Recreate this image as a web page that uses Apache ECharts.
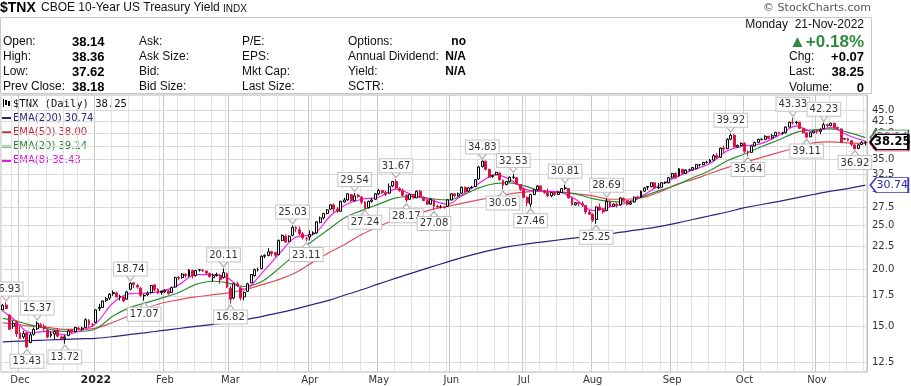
<!DOCTYPE html>
<html><head><meta charset="utf-8">
<script src="https://cdn.jsdelivr.net/npm/echarts@6/dist/echarts.min.js"></script>
<style>html,body{margin:0;padding:0;background:#fff}#c{width:911px;height:386px}</style>
</head><body><div id="c"></div><script>
// ---------- DATA ----------
const startDate = '2021-11-23';
const endDate = '2022-11-21';
const holidays = ['2021-11-25','2021-12-24','2022-01-17','2022-02-21','2022-04-15','2022-05-30','2022-06-20','2022-07-04','2022-09-05'];

// daily candles per month: [open, close, low, high]
const nov2021 = [[16.30,16.68,16.25,16.78],[16.70,16.40,16.35,16.93],[15.85,14.76,14.70,15.95],[15.00,15.20,14.80,15.40],[15.30,14.42,14.20,15.45]];
const dec2021 = [[14.50,14.10,14.05,15.00],[14.20,14.45,14.07,14.65],[14.50,13.50,13.43,14.55],[13.80,14.35,13.75,14.50],[14.40,14.75,14.30,14.90],[14.80,15.22,14.70,15.37],[15.10,14.95,14.85,15.25],[15.00,14.85,14.60,15.20],[14.70,14.20,14.10,14.80],[14.30,14.40,14.15,14.60],[14.40,14.60,14.05,14.70],[14.70,14.25,14.15,14.85],[14.20,14.05,13.95,14.30],[14.10,14.20,13.72,14.35],[14.30,14.65,14.25,14.75],[14.70,14.55,14.45,14.75],[14.60,14.90,14.55,14.95],[14.85,14.80,14.70,14.95],[14.80,14.85,14.70,14.95],[14.90,15.50,14.85,15.60],[15.45,15.15,14.95,15.55],[15.10,15.10,14.95,15.25]];
const jan2022 = [[15.30,16.30,15.25,16.35],[16.40,16.50,16.20,16.80],[16.50,17.05,16.45,17.10],[17.10,17.25,16.95,17.40],[17.30,17.65,17.15,17.75],[17.70,17.80,17.50,18.00],[17.75,17.40,17.35,17.90],[17.45,17.40,17.10,17.60],[17.40,17.05,16.95,17.50],[17.20,17.85,17.15,17.95],[18.10,18.65,18.00,18.74],[18.70,18.55,18.20,18.70],[18.45,18.30,18.15,18.60],[18.20,17.55,17.40,18.30],[17.50,17.55,17.07,17.65],[17.60,17.75,17.50,17.90],[17.80,18.45,17.70,18.50],[18.50,18.05,17.90,18.55],[18.10,17.75,17.65,18.20],[17.90,17.80,17.60,18.00]];
const feb2022 = [[17.85,18.00,17.75,18.10],[17.95,17.70,17.60,18.00],[17.80,18.25,17.75,18.35],[18.30,19.20,18.25,19.30],[19.20,19.15,18.95,19.35],[19.20,19.55,19.10,19.65],[19.55,19.40,19.20,19.60],[19.35,19.95,19.25,20.05],[19.90,19.35,19.10,20.00],[19.40,19.90,19.30,19.95],[19.95,19.98,19.80,20.05],[19.95,19.90,19.75,20.00],[19.85,19.65,19.50,19.90],[19.60,19.30,19.20,19.70],[19.20,19.40,18.80,19.60],[19.40,19.50,19.30,19.70],[19.40,19.00,18.60,19.60],[19.20,19.70,19.10,20.11],[19.60,18.30,18.20,19.70]];
const mar2022 = [[18.20,17.20,16.82,18.40],[17.30,18.60,17.20,18.70],[18.60,18.45,18.30,18.80],[18.20,17.30,17.10,18.30],[17.40,17.80,17.10,17.90],[17.90,18.60,17.85,18.70],[18.70,19.50,18.65,19.55],[19.40,20.00,19.30,20.10],[20.00,20.00,19.80,20.20],[20.10,21.40,20.05,21.50],[21.40,21.50,21.20,21.60],[21.50,21.90,21.40,22.30],[21.90,21.70,21.40,22.00],[21.80,21.50,21.30,21.90],[21.60,23.20,21.50,23.30],[23.20,23.80,23.10,23.90],[23.70,23.00,22.90,23.90],[23.10,23.70,23.00,23.80],[23.80,24.80,23.70,25.03],[24.80,24.60,24.20,24.95],[24.50,24.00,23.80,24.90],[24.00,23.50,23.30,24.20],[23.40,23.40,23.11,23.60]];
const apr2022 = [[23.60,23.90,23.20,24.40],[24.00,24.10,23.80,24.30],[24.10,25.50,24.00,25.60],[25.40,26.00,25.30,26.20],[26.00,26.60,25.80,26.70],[26.60,27.10,26.50,27.20],[27.20,27.80,27.10,27.90],[27.80,27.20,26.70,28.00],[27.20,26.90,26.70,27.50],[26.90,28.30,26.90,28.40],[28.20,28.50,28.10,28.80],[28.50,29.40,28.40,29.50],[29.30,28.40,28.20,29.40],[28.40,29.10,28.30,29.54],[29.20,29.00,28.80,29.40],[28.90,28.20,27.90,29.10],[28.20,27.30,27.24,28.30],[27.40,28.30,27.30,28.40],[28.30,28.50,28.10,28.80],[28.60,29.40,28.50,29.50]];
const may2022 = [[29.40,29.90,29.20,30.10],[29.90,29.60,29.40,30.00],[29.60,29.30,29.10,29.90],[29.50,30.50,29.40,31.00],[30.60,31.30,30.40,31.40],[31.30,30.30,30.10,31.67],[30.20,29.90,29.70,30.40],[29.90,29.20,29.00,30.20],[29.20,28.50,28.17,29.40],[28.60,29.30,28.50,29.40],[29.30,28.80,28.70,29.40],[28.80,29.80,28.80,29.90],[29.80,28.90,28.80,30.00],[28.90,28.40,28.30,29.00],[28.40,27.90,27.80,28.60],[27.90,28.60,27.80,28.70],[28.50,27.60,27.08,28.60],[27.60,27.50,27.30,27.80],[27.50,27.50,27.30,27.80],[27.50,27.40,27.30,27.60],[27.60,28.50,27.50,28.60]];
const jun2022 = [[28.50,29.40,28.40,29.50],[29.40,29.10,28.90,29.50],[29.10,29.40,29.00,29.60],[29.50,30.40,29.40,30.50],[30.40,29.70,29.60,30.50],[29.80,30.30,29.70,30.40],[30.30,30.40,30.20,30.60],[30.50,31.60,30.40,31.70],[31.70,33.70,31.60,33.90],[33.80,34.70,33.60,34.83],[34.70,33.30,33.10,34.80],[33.30,32.00,31.90,33.40],[32.10,32.30,31.90,32.40],[32.40,32.80,32.30,32.90],[32.70,31.60,31.40,32.80],[31.50,30.70,30.05,31.60],[30.80,31.30,30.70,31.40],[31.30,32.00,31.20,32.10],[32.00,32.00,31.70,32.53],[31.90,30.90,30.80,32.00],[30.80,30.10,29.80,30.90]];
const jul2022 = [[30.10,28.90,28.70,30.20],[28.90,28.10,27.60,29.00],[27.90,29.30,27.46,29.40],[29.30,30.00,29.20,30.10],[30.00,30.60,29.90,30.75],[30.60,29.90,29.80,30.70],[29.90,29.60,29.40,30.00],[29.60,29.10,28.90,30.20],[29.10,29.60,28.90,29.70],[29.60,29.30,29.10,29.70],[29.30,29.60,29.20,29.80],[29.60,30.20,29.50,30.30],[30.20,30.30,30.00,30.81],[30.20,28.80,28.70,30.30],[28.80,27.80,27.70,28.90],[27.80,28.10,27.70,28.20],[28.10,28.00,27.60,28.20],[28.00,27.80,27.50,28.30],[27.70,26.80,26.50,27.80],[26.80,26.50,26.40,27.10]];
const aug2022 = [[26.50,25.70,25.50,26.60],[25.80,27.50,25.25,27.60],[27.50,27.10,27.00,28.00],[27.10,26.80,26.60,27.40],[27.00,28.30,26.90,28.69],[28.30,27.60,27.50,28.40],[27.60,27.90,27.50,28.00],[27.90,27.80,27.40,28.10],[27.80,28.80,27.70,28.90],[28.70,28.40,28.30,28.90],[28.40,27.90,27.70,28.50],[27.90,28.10,27.80,28.40],[28.20,28.90,28.10,29.00],[28.90,28.80,28.60,29.10],[28.90,29.80,28.80,29.90],[29.80,30.30,29.70,30.40],[30.40,30.50,30.00,30.60],[30.50,31.10,30.40,31.20],[31.10,30.30,30.20,31.10],[30.30,30.40,30.10,31.10],[30.40,31.10,30.40,31.20],[31.10,31.10,30.90,31.30],[31.10,31.90,31.00,32.00]];
const sep2022 = [[32.00,32.60,31.80,32.70],[32.60,31.90,31.70,32.80],[32.20,33.40,32.10,33.50],[33.30,32.60,32.50,33.40],[32.60,33.20,32.50,33.30],[33.20,33.20,33.00,33.40],[33.20,33.60,33.10,33.70],[33.40,34.10,33.30,34.20],[34.10,34.10,33.80,34.20],[34.10,34.50,34.00,34.60],[34.50,34.50,34.30,34.80],[34.60,34.90,34.40,35.10],[34.90,35.70,34.80,36.00],[35.70,35.30,35.10,36.20],[35.40,37.10,35.30,37.20],[37.10,36.90,36.20,37.60],[37.00,38.80,36.90,39.00],[38.80,39.60,38.60,39.92],[39.60,37.30,37.20,39.90],[37.30,37.60,37.10,37.80],[37.60,38.00,37.40,38.20]];
const oct2022 = [[38.00,36.50,36.20,38.20],[36.40,36.20,35.64,36.70],[36.30,37.50,36.20,37.60],[37.50,38.20,37.40,38.30],[38.20,38.80,38.10,38.90],[38.80,38.80,38.60,38.90],[38.80,39.40,38.70,39.60],[39.40,39.00,38.80,39.50],[39.10,39.50,38.80,39.90],[39.50,40.20,39.40,40.30],[40.20,40.00,39.80,40.30],[40.00,40.00,39.70,40.30],[40.10,41.30,40.00,41.40],[41.30,42.30,41.20,42.40],[42.30,42.20,41.80,43.33],[42.20,42.30,41.80,42.60],[42.30,41.00,40.90,42.40],[41.00,40.10,39.90,41.10],[40.10,39.20,39.11,40.20],[39.30,40.10,39.20,40.20],[40.10,40.50,40.00,40.60]];
const nov2022 = [[40.50,40.40,39.90,40.70],[40.40,40.70,39.80,41.00],[41.00,41.80,40.90,42.23],[41.80,41.60,41.20,42.00],[41.60,42.10,41.50,42.20],[42.10,41.20,41.00,42.20],[41.20,41.00,40.80,41.40],[40.90,38.20,38.10,41.00],[38.85,38.90,38.80,39.00],[38.90,38.60,38.40,39.10],[38.50,37.80,37.50,38.70],[37.70,36.95,36.92,37.80],[37.00,37.70,36.95,37.85],[37.80,38.18,37.70,38.40],[38.14,38.25,37.62,38.36]];

// moving averages at the first trading day of each week (53 weeks)
const ema200 = [13.85,13.88,13.93,13.98,14.02,14.06,14.10,14.22,14.38,14.50,14.66,14.82,14.98,15.13,15.26,15.50,15.75,16.05,16.38,16.75,17.15,17.55,18.05,18.60,19.15,19.70,20.25,20.80,21.25,21.75,22.20,22.50,22.80,23.00,23.25,23.50,23.75,24.00,24.30,24.60,24.95,25.40,25.80,26.30,26.80,27.40,27.85,28.30,28.80,29.30,29.80,30.20,30.74];
const ema50  = [15.25,15.15,15.00,14.90,14.75,14.75,14.85,15.30,15.85,16.35,16.85,17.15,17.40,17.60,17.75,18.05,18.50,19.00,19.70,20.80,21.90,22.70,23.90,24.90,25.80,26.40,27.10,27.60,28.00,28.50,29.00,29.40,29.70,29.75,29.70,29.40,29.10,28.60,28.60,28.90,29.80,31.00,31.60,32.60,33.60,34.50,35.40,36.30,37.20,38.10,38.30,38.10,38.00];
const ema20  = [15.60,15.45,15.10,14.80,14.60,14.60,14.80,15.80,16.50,16.85,17.30,17.80,18.55,18.85,18.70,18.35,18.80,20.10,21.70,23.20,24.70,26.00,27.00,27.90,28.80,29.00,28.70,28.50,29.10,30.30,31.00,31.10,30.50,29.80,29.70,29.40,28.70,28.30,28.20,29.10,30.00,30.90,31.90,33.10,34.80,36.00,37.40,38.70,40.20,40.70,40.90,40.20,39.14];
const ema8   = [16.20,15.60,14.50,14.60,14.35,14.60,15.20,16.90,17.70,17.75,17.90,18.50,19.50,19.50,19.20,18.10,19.60,21.60,23.60,23.90,26.30,27.70,28.60,28.90,30.10,29.20,28.50,27.90,29.20,31.00,32.40,31.60,30.00,29.80,29.70,28.60,27.00,27.50,28.10,29.30,30.90,32.20,33.20,34.30,36.60,37.50,38.00,39.60,41.50,40.30,41.20,39.60,38.43];

const yTicks = [12.5,15,17.5,20,22.5,25,27.5,30,32.5,35,37.5,40,42.5,45];
const swingPoints = [
 ['2021-11-24',16.93,'H'],['2021-12-03',13.43,'L'],['2021-12-08',15.37,'H'],['2021-12-20',13.72,'L'],
 ['2022-01-18',18.74,'H'],['2022-01-24',17.07,'L'],['2022-02-25',20.11,'H'],['2022-03-01',16.82,'L'],
 ['2022-03-25',25.03,'H'],['2022-03-31',23.11,'L'],['2022-04-21',29.54,'H'],['2022-04-26',27.24,'L'],
 ['2022-05-09',31.67,'H'],['2022-05-12',28.17,'L'],['2022-05-24',27.08,'L'],['2022-06-14',34.83,'H'],
 ['2022-06-23',30.05,'L'],['2022-06-28',32.53,'H'],['2022-07-06',27.46,'L'],['2022-07-20',30.81,'H'],
 ['2022-08-02',25.25,'L'],['2022-08-05',28.69,'H'],['2022-09-27',39.92,'H'],['2022-10-04',35.64,'L'],
 ['2022-10-21',43.33,'H'],['2022-10-27',39.11,'L'],['2022-11-03',42.23,'H'],['2022-11-16',36.92,'L']
];
const monthNames = ['Jan','Feb','Mar','Apr','May','Jun','Jul','Aug','Sep','Oct','Nov','Dec'];
const lastClose = 38.25;
const lastEma = {ema200: 30.74, ema50: 38.00, ema20: 39.14, ema8: 38.43};
const infoRows = [
 ['Open:','38.14','Ask:','','P/E:','','Options:','no'],
 ['High:','38.36','Ask Size:','','EPS:','','Annual Dividend:','N/A'],
 ['Low:','37.62','Bid:','','Mkt Cap:','','Yield:','N/A'],
 ['Prev Close:','38.18','Bid Size:','','Last Size:','','SCTR:','']
];
const quote = {date:'Monday  21-Nov-2022', pct:'\u25B2+0.18%', chg:'+0.07', last:'38.25', volume:'0'};

// ---------- BUILD ----------
const RED = '#dd1144', NAVY = '#26267e', EMA50C = '#e0505c', GREEN = '#2f8a34', MAG = '#f020ee';
const CF = 'DejaVu Sans, Verdana, sans-serif';
const HF = 'Liberation Sans, Arial, sans-serif';

const dates = [];
(function () {
  const hs = new Set(holidays);
  let t = Date.parse(startDate + 'T00:00:00Z');
  const end = Date.parse(endDate + 'T00:00:00Z');
  while (t <= end) {
    const d = new Date(t), dow = d.getUTCDay(), s = d.toISOString().slice(0, 10);
    if (dow !== 0 && dow !== 6 && !hs.has(s)) dates.push(s);
    t += 86400000;
  }
})();
const dow = s => new Date(s + 'T00:00:00Z').getUTCDay();
const weekStarts = [];
dates.forEach((s, i) => { if (i === 0 || dow(s) <= dow(dates[i - 1])) weekStarts.push(i); });
const weekSet = new Set(weekStarts);
const monthSet = new Set();
dates.forEach((s, i) => { if (i > 0 && s.slice(5, 7) !== dates[i - 1].slice(5, 7)) monthSet.add(i); });

const ohlc = [].concat(nov2021, dec2021, jan2022, feb2022, mar2022, apr2022, may2022, jun2022, jul2022, aug2022, sep2022, oct2022, nov2022);
const candleData = ohlc.map((d, i) => {
  const prev = i > 0 ? ohlc[i - 1][1] : d[0];
  const col = d[1] >= prev ? '#000000' : RED;
  const fill = d[1] > d[0] ? '#ffffff' : col;
  return { value: d, itemStyle: { color: fill, color0: fill, borderColor: col, borderColor0: col, borderColorDoji: col } };
});
function weekly(vals) {
  const arr = dates.map(() => null);
  weekStarts.forEach((idx, k) => { if (k < vals.length) arr[idx] = vals[k]; });
  return arr;
}
const lastDate = dates[dates.length - 1];
const tagPath = 'path://M0,7 L7,0 L44,0 L44,14 L7,14 Z';
function tag(value, border, textColor, bold) {
  return {
    coord: [lastDate, value], symbol: tagPath, symbolSize: [38, 15], symbolKeepAspect: false,
    symbolOffset: [24, 0],
    itemStyle: { color: '#ffffff', borderColor: border, borderWidth: bold ? 1.6 : 1.2 },
    label: { show: true, position: 'inside', offset: [3, 0], formatter: value.toFixed(2), color: textColor,
      fontFamily: CF, fontSize: bold ? 11.5 : 11, fontWeight: bold ? 'bold' : 'normal' }
  };
}
const calloutData = swingPoints.map(([d, v, t]) => ({
  coord: [d, v],
  symbol: t === 'H' ? 'path://M0,0 L5,7 L10,0' : 'path://M0,7 L5,0 L10,7',
  symbolSize: [8, 5], symbolOffset: [0, t === 'H' ? -4 : 4],
  itemStyle: { color: '#ffffff', borderColor: '#aaaaaa', borderWidth: 1 },
  label: { show: true, formatter: v.toFixed(2), position: t === 'H' ? 'top' : 'bottom', distance: 0,
    color: '#333', fontFamily: CF, fontSize: 10, backgroundColor: '#ffffff', borderColor: '#c4c4c4',
    borderWidth: 1, padding: [2, 2, 1, 2] }
}));

function emaLine(name, vals, color, z) {
  return { name, type: 'line', data: weekly(vals), connectNulls: true, smooth: 0.35, symbol: 'none',
    lineStyle: { color, width: 1.2 }, z, silent: true };
}
const s200 = emaLine('EMA(200)', ema200, NAVY, 3);
s200.markLine = { silent: true, symbol: 'none', z: 1, animation: false,
  lineStyle: { color: '#dadada', width: 1, type: 'solid' },
  label: { position: 'end', distance: 5, formatter: p => Number(p.value).toFixed(1), color: '#333', fontFamily: CF, fontSize: 10 },
  data: yTicks.map(v => ({ yAxis: v })) };
s200.markPoint = { z: 11, silent: true, animation: false, data: [tag(lastEma.ema200, '#3a3ab0', '#2a2aa0', false)] };
const s50 = emaLine('EMA(50)', ema50, EMA50C, 3);
s50.markPoint = { z: 11, silent: true, animation: false, data: [tag(lastEma.ema50, RED, RED, false)] };
const s20 = emaLine('EMA(20)', ema20, GREEN, 3);
s20.markPoint = { z: 11, silent: true, animation: false, data: [tag(lastEma.ema20, GREEN, GREEN, false)] };
const s8 = emaLine('EMA(8)', ema8, MAG, 4);
s8.markPoint = { z: 11, silent: true, animation: false, data: [tag(lastEma.ema8, MAG, MAG, false)] };

const candle = { name: '$TNX', type: 'candlestick', data: candleData, barWidth: '70%', z: 5, silent: true,
  itemStyle: { borderWidth: 1 },
  markPoint: { z: 12, silent: true, animation: false, data: calloutData.concat([tag(lastClose, '#000', '#000', true)]) } };

// ---------- GRAPHIC (header + legend) ----------
const g = [];
const txt = (x, y, text, font, fill, align) => g.push({ type: 'text', x, y, silent: true,
  style: { text, font, fill: fill || '#000', align: align || 'left', verticalAlign: 'middle' } });
txt(0, 8, '$TNX', 'bold 14px ' + HF);
txt(41, 8, 'CBOE 10-Year US Treasury Yield', '12px ' + HF, '#111');
txt(223, 9, 'INDX', '10px ' + HF, '#111');
txt(871, 8, '\u00A9 StockCharts.com', '11px ' + CF, '#555', 'right');
g.push({ type: 'rect', silent: true, shape: { x: 0.5, y: 17.5, width: 871, height: 76 }, style: { fill: 'none', stroke: '#c8c8c8', lineWidth: 1 } });
const rowY = [42, 57, 72, 87];
infoRows.forEach((r, i) => {
  const y = rowY[i];
  txt(3, y, r[0], '12px ' + HF, '#111');
  txt(72, y, r[1], 'bold 13px ' + HF);
  txt(139, y, r[2], '12px ' + HF, '#111');
  txt(242, y, r[4], '12px ' + HF, '#111');
  txt(348, y, r[6], '12px ' + HF, '#111');
  if (r[7]) txt(466, y, r[7], 'bold 12px ' + HF, '#000', 'right');
});
txt(864, 25, quote.date, '12px ' + HF, '#111', 'right');
txt(864, 42, quote.pct, 'bold 17px ' + HF, '#2e8b3e', 'right');
txt(789, 57, 'Chg:', '12px ' + HF, '#111'); txt(864, 57, quote.chg, 'bold 13px ' + HF, '#000', 'right');
txt(789, 72, 'Last:', '12px ' + HF, '#111'); txt(864, 72, quote.last, 'bold 13px ' + HF, '#000', 'right');
txt(789, 88, 'Volume:', '12px ' + HF, '#111'); txt(864, 88, quote.volume, 'bold 13px ' + HF, '#000', 'right');
// legend
g.push({ type: 'rect', silent: true, shape: { x: 3, y: 99, width: 1, height: 8 }, style: { fill: '#000' } });
g.push({ type: 'rect', silent: true, shape: { x: 5, y: 100, width: 2, height: 5 }, style: { fill: '#000' } });
g.push({ type: 'rect', silent: true, shape: { x: 8, y: 101, width: 2, height: 5 }, style: { fill: '#000' } });
txt(13, 104, '$TNX (Daily) ' + lastClose.toFixed(2), '10.5px DejaVu Sans Mono, monospace', '#111');
[['EMA(200) ', lastEma.ema200, NAVY], ['EMA(50) ', lastEma.ema50, '#c8283c'], ['EMA(20) ', lastEma.ema20, '#22862a'], ['EMA(8) ', lastEma.ema8, '#e010e0']]
  .forEach(([n, v, c], i) => {
    const y = 118 + i * 14.3;
    g.push({ type: 'rect', silent: true, shape: { x: 2, y: y - 1, width: 9, height: 2 }, style: { fill: c } });
    txt(13, y, n + v.toFixed(2), '10px ' + CF, c);
  });

// ---------- CHART ----------
const chart = echarts.init(document.getElementById('c'), null, { renderer: 'canvas' });
chart.setOption({
  animation: false,
  backgroundColor: '#ffffff',
  grid: { left: 1, right: 44, top: 95, bottom: 14, show: true, borderColor: '#b4b4b4', borderWidth: 1 },
  xAxis: [
    { type: 'category', data: dates, boundaryGap: true,
      axisLine: { show: false }, axisTick: { show: false },
      axisLabel: { interval: (i) => monthSet.has(i), margin: 3, fontFamily: CF, fontSize: 10, color: '#333',
        formatter: (v) => { const m = +v.slice(5, 7) - 1; return m === 0 ? '{y|' + v.slice(0, 4) + '}' : monthNames[m]; },
        rich: { y: { fontWeight: 'bold', fontFamily: CF, fontSize: 11, color: '#222' } } },
      splitLine: { show: true, interval: (i) => weekSet.has(i), lineStyle: { color: '#e3e3e3', width: 1 } } },
    { type: 'category', data: dates, boundaryGap: true, position: 'top',
      axisLine: { show: false }, axisTick: { show: false }, axisLabel: { show: false },
      splitLine: { show: true, interval: (i) => monthSet.has(i), lineStyle: { color: '#c6c6c6', width: 1 } } }
  ],
  yAxis: { type: 'log', logBase: 10, min: 11.88, max: 48.6, position: 'right',
    axisLine: { show: false }, axisTick: { show: false }, axisLabel: { show: false }, splitLine: { show: false } },
  series: [s200, s50, s20, s8, candle],
  graphic: { elements: g }
});
</script></body></html>
